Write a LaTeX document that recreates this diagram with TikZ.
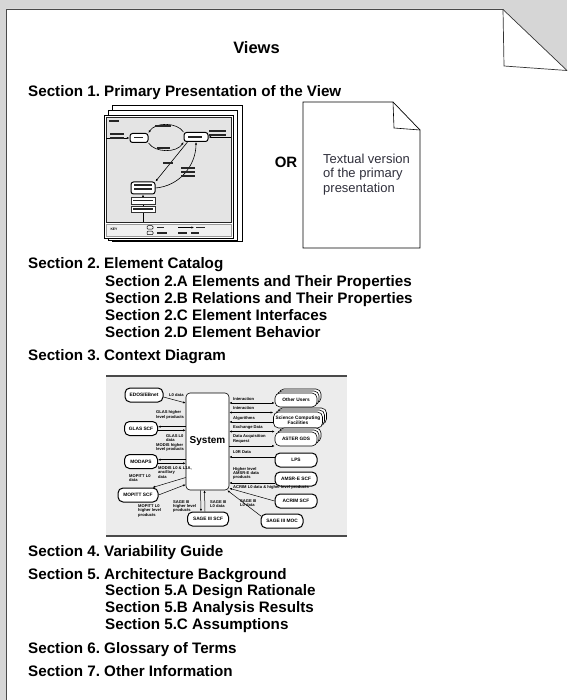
\documentclass[tikz,border=0pt]{standalone}
\usepackage{fontspec}
\setmainfont{Liberation Sans}
\frenchspacing
\usetikzlibrary{arrows.meta,shadows,calc}
\definecolor{framegray}{HTML}{D6D6D6}
\definecolor{edgegray}{HTML}{4A4A4A}
\definecolor{boxgray}{HTML}{ECECEC}
\definecolor{thgray}{HTML}{E4E4E4}
\definecolor{txtblue}{HTML}{30303C}
\newcommand\mygbar[3]{\fill[black!85] (#1,#2) rectangle ++(#3,1.8);}
\begin{document}
\begin{tikzpicture}[x=1pt,y=-1pt,
  sec/.style={anchor=base west, inner sep=0pt, font=\fontsize{15.2}{17}\selectfont\bfseries},
  thpage/.style={draw=black, fill=white, line width=0.7pt},
  thn/.style={draw, fill=white, rounded corners=2.5pt, line width=1pt, inner sep=0pt, minimum height=9pt, minimum width=#1},
  tar/.style={-{Latex[length=2.6pt,width=2.2pt]}, line width=0.6pt},
  sysbox/.style={draw, fill=white, rounded corners=4pt, line width=0.6pt, minimum width=43pt, minimum height=97pt, inner sep=0pt, font=\fontsize{10}{12}\selectfont\bfseries},
  ctx/.style={draw, fill=white, rounded corners=5pt, line width=1pt, inner sep=0.3pt, minimum height=14pt, font=\fontsize{4.8}{5.4}\selectfont\bfseries, align=center},
  ctxs/.style={ctx, line width=0.6pt, copy shadow={shadow xshift=4pt, shadow yshift=4pt}, copy shadow={shadow xshift=2pt, shadow yshift=2pt}},
  lab/.style={anchor=north west, inner sep=0pt, align=left, font=\fontsize{4.1}{4.4}\selectfont\bfseries},
  car/.style={-{Latex[length=2.6pt,width=2.2pt]}, line width=0.5pt},
  cdbl/.style={{Latex[length=2.6pt,width=2.2pt]}-{Latex[length=2.6pt,width=2.2pt]}, line width=0.5pt}
]
\useasboundingbox (0,0) rectangle (567,700);
% page frame
\fill[framegray] (0,0) rectangle (567,700);
\fill[white] (6,9) -- (503,9) -- (567,70.5) -- (567,700) -- (6,700) -- cycle;
\draw[edgegray, line width=1.6pt] (6.5,700) -- (6.5,9.5) -- (503,9.5);
\draw[black!80, line width=0.7pt] (503,9.5) -- (567,70.5);
\draw[black!80, line width=0.7pt] (503,9.5) -- (504,66) -- (567,70.5);

% title and sections
\node[anchor=base, inner sep=0pt, font=\fontsize{16.5}{18}\selectfont\bfseries] (title) at (256.5,53.3) {Views};
\node[sec] (s1) at (28,96.5) {Section 1. Primary Presentation of the View};
\node[sec] (s2) at (28,269) {Section 2. Element Catalog};
\node[sec] (s2a) at (105,286.7) {Section 2.A Elements and Their Properties};
\node[sec] (s2b) at (105,303.5) {Section 2.B Relations and Their Properties};
\node[sec] (s2c) at (105,320.5) {Section 2.C Element Interfaces};
\node[sec] (s2d) at (105,337.3) {Section 2.D Element Behavior};
\node[sec] (s3) at (28,360.5) {Section 3. Context Diagram};
\node[sec] (s4) at (28,556) {Section 4. Variability Guide};
\node[sec] (s5) at (28,579) {Section 5. Architecture Background};
\node[sec] (s5a) at (105,595.7) {Section 5.A Design Rationale};
\node[sec] (s5b) at (105,612.7) {Section 5.B Analysis Results};
\node[sec] (s5c) at (105,629.3) {Section 5.C Assumptions};
\node[sec] (s6) at (28,653.3) {Section 6. Glossary of Terms};
\node[sec] (s7) at (28,676.7) {Section 7. Other Information};

% ---------- thumbnail of primary presentation ----------
\draw[thpage] (112,105) rectangle (242,241);
\draw[thpage] (108,110) rectangle (237,240);
\draw[thpage] (104,115) rectangle (233,238);
\filldraw[fill=thgray, draw=black!85, line width=0.7pt] (106,117) rectangle (231,222);
\filldraw[fill=black!6, draw=black!40, line width=0.4pt] (106,224) rectangle (231,236);
\node[thn=18pt] (t1) at (139,138) {};
\node[thn=24pt] (t2) at (196,137) {};
\node[thn=24pt, minimum height=12pt] (t3) at (143,188) {};
\coordinate (tl) at (106,138);
\coordinate (tr) at (231,137);
\coordinate (tb) at (143,222);
\draw[tar] (tl) -- (t1.west);
\draw[tar] (tr) -- (t2.east);
\draw[tar] (t2.north west) .. controls (177,122) and (155,122) .. (t1.north east);
\draw[tar] (t1.south east) .. controls (155,153) and (177,153) .. (t2.south west);
\draw[tar] ($(t2.south west)+(4,0)$) -- (t3.north east);
\draw[tar] (t3.east) .. controls (180,186) and (196,165) .. (t2.south);
\draw[tar] (tb) -- (t3.south);
\mygbar{109}{120}{10}
\mygbar{110}{133.5}{14}\mygbar{110}{137.5}{14}
\mygbar{209}{130}{17}\mygbar{209}{134}{17}
\mygbar{155}{125}{16}
\mygbar{157}{147}{13}
\mygbar{163}{162}{10}
\mygbar{181}{167.5}{14}\mygbar{181}{171.5}{14}\mygbar{181}{175.5}{14}
\mygbar{134}{136.6}{9}\mygbar{188}{136}{14}\mygbar{134}{184.5}{18}\mygbar{134}{188.5}{18}
\filldraw[fill=white, draw=black!80, line width=0.5pt] (131,197) rectangle (155,204);
\mygbar{133}{199.6}{20}
\filldraw[fill=white, draw=black!80, line width=0.5pt] (131,206) rectangle (155,212);
\mygbar{133}{208.1}{20}
\node[inner sep=0pt, font=\fontsize{3.4}{3.6}\selectfont\bfseries] (key) at (114,229.5) {KEY};
\node[draw, rounded corners=1pt, inner sep=0pt, minimum width=6pt, minimum height=3.5pt, line width=0.5pt] (k1) at (150,227.5) {};
\node[draw, rounded corners=1pt, inner sep=0pt, minimum width=6pt, minimum height=3.5pt, line width=0.5pt] (k2) at (150,233) {};
\mygbar{157}{226.6}{7}\mygbar{157}{232.1}{10}
\coordinate (ka) at (178,227.5);
\coordinate (kb) at (194,227.5);
\draw[tar] (ka) -- (kb);
\mygbar{196}{226.6}{9}
\mygbar{178}{232.1}{9}\mygbar{191}{232.1}{8}

% ---------- textual version ----------
\node[anchor=base, inner sep=0pt, font=\fontsize{15}{17}\selectfont\bfseries] (or) at (286,168) {OR};
\filldraw[fill=white, draw=black, line width=0.7pt] (303,102) -- (393,102) -- (420,130) -- (420,248) -- (303,248) -- cycle;
\draw[black, line width=0.6pt] (393,102) -- (394,128) -- (420,130);
\node[anchor=north west, align=left, inner sep=0pt, font=\fontsize{13}{14.5}\selectfont, text=txtblue] (txt) at (323,153.6) {Textual version\\of the primary\\presentation};

% ---------- context diagram ----------
\fill[boxgray] (106,376) rectangle (347,536);
\draw[edgegray, line width=1.3pt] (106,376) -- (347,376);
\draw[edgegray, line width=1.3pt] (106,536) -- (347,536);
\node[sysbox] (sys) at (207.5,441.5) {System};
\node[ctx, minimum width=38pt] (edos) at (144,395) {EDOS/EBnet};
\node[ctx, minimum width=33pt] (glas) at (141,428.5) {GLAS SCF};
\node[ctx, minimum width=33pt] (modaps) at (141,461.5) {MODAPS};
\node[ctx, minimum width=40pt] (mopitt) at (138,495) {MOPITT SCF};
\node[ctx, minimum width=41pt] (sscf) at (208,519) {SAGE III SCF};
\node[ctxs, minimum width=42pt] (ou) at (296,400) {Other Users};
\node[ctxs, minimum width=49pt, minimum height=16pt] (sc) at (298,420) {Science Computing\\Facilities};
\node[ctxs, minimum width=42pt] (aster) at (296,439) {ASTER GDS};
\node[ctx, minimum width=42pt] (lps) at (296,460) {LPS};
\node[ctx, minimum width=42pt] (amsr) at (296,479) {AMSR-E SCF};
\node[ctx, minimum width=42pt] (acrim) at (296,501) {ACRIM SCF};
\node[ctx, minimum width=42pt] (smoc) at (282,521) {SAGE III MOC};
% right connectors
\draw[cdbl] ($(sys.east |- ou.west)+(0,3)$) -- ($(ou.west)+(0,3)$);
\draw[cdbl] ($(sys.east |- sc.west)+(0,-7.5)$) -- ($(sc.west)+(0,-7.5)$);
\draw[car] ($(sc.west)+(0,2)$) -- ($(sys.east |- sc.west)+(0,2)$);
\draw[cdbl] ($(sys.east |- aster.west)+(0,-7.5)$) -- ($(aster.west)+(0,-7.5)$);
\draw[car] ($(sys.east |- aster.west)+(0,7)$) -- ($(aster.west)+(0,7)$);
\draw[car] ($(lps.west)+(0,-3)$) -- ($(sys.east |- lps.west)+(0,-3)$);
\draw[car] ($(amsr.west)+(0,4)$) -- ($(sys.east |- amsr.west)+(0,4)$);
\draw[car] (acrim.west) -- ($(sys.south east)+(0,-2)$);
\draw[car] ($(smoc.north west)+(1,3)$) -- ($(sys.south east)+(-2,0)$);
\node[lab] (l1) at (233,397) {Interaction};
\node[lab] (l2) at (233,406.5) {Interaction};
\node[lab] (l3) at (233,416) {Algorithms};
\node[lab] (l4) at (233,425.5) {Exchange Data};
\node[lab] (l5) at (233,434.5) {Data Acquisition\\Request};
\node[lab] (l6) at (233,450) {L0R Data};
\node[lab] (l7) at (233,467) {Higher level\\AMSR-E data\\products};
\node[lab] (l8) at (233,485) {ACRIM L0 data \& higher level products};
\node[lab] (l9) at (240,499.5) {SAGE III\\L0 data};
% left connectors
\draw[car] ($(edos.east)+(0,2)$) -- ($(sys.west |- edos.east)+(0,8)$);
\draw[car] ($(sys.west |- glas.east)+(0,-1.8)$) -- ($(glas.east)+(0,-1.8)$);
\draw[car] ($(glas.east)+(0,1.8)$) -- ($(sys.west |- glas.east)+(0,1.8)$);
\draw[car] ($(sys.west |- modaps.east)+(0,-1.8)$) -- ($(modaps.east)+(0,-1.8)$);
\draw[car] ($(modaps.east)+(0,1.8)$) -- ($(sys.west |- modaps.east)+(0,1.8)$);
\draw[car] ($(sys.west)+(0,36)$) -- ($(mopitt.north east)+(-6,0)$);
\draw[car] (mopitt.east) -- ($(sys.west)+(0,43)$);
\draw[car] ($(sys.south)+(-7,0)$) -- ($(sscf.north)+(-7,0)$);
\draw[car] ($(sscf.north)+(-3,0)$) -- ($(sys.south)+(-3,0)$);
\node[lab] (m1) at (169,393) {L0 data};
\node[lab] (m2) at (156,410.5) {GLAS higher\\level products};
\node[lab] (m3) at (166,434) {GLAS L0\\data};
\node[lab] (m4) at (156,443) {MODIS higher\\level products};
\node[lab] (m5) at (158,466.5) {MODIS L0 \& L1A,\\ancillary\\data};
\node[lab] (m6) at (129,474) {MOPITT L0\\data};
\node[lab] (m7) at (138,504.5) {MOPITT L0\\higher level\\products};
\node[lab] (m8) at (173,500) {SAGE III\\higher level\\products};
\node[lab] (m9) at (210,500) {SAGE III\\L0 data};
\end{tikzpicture}
\end{document}
